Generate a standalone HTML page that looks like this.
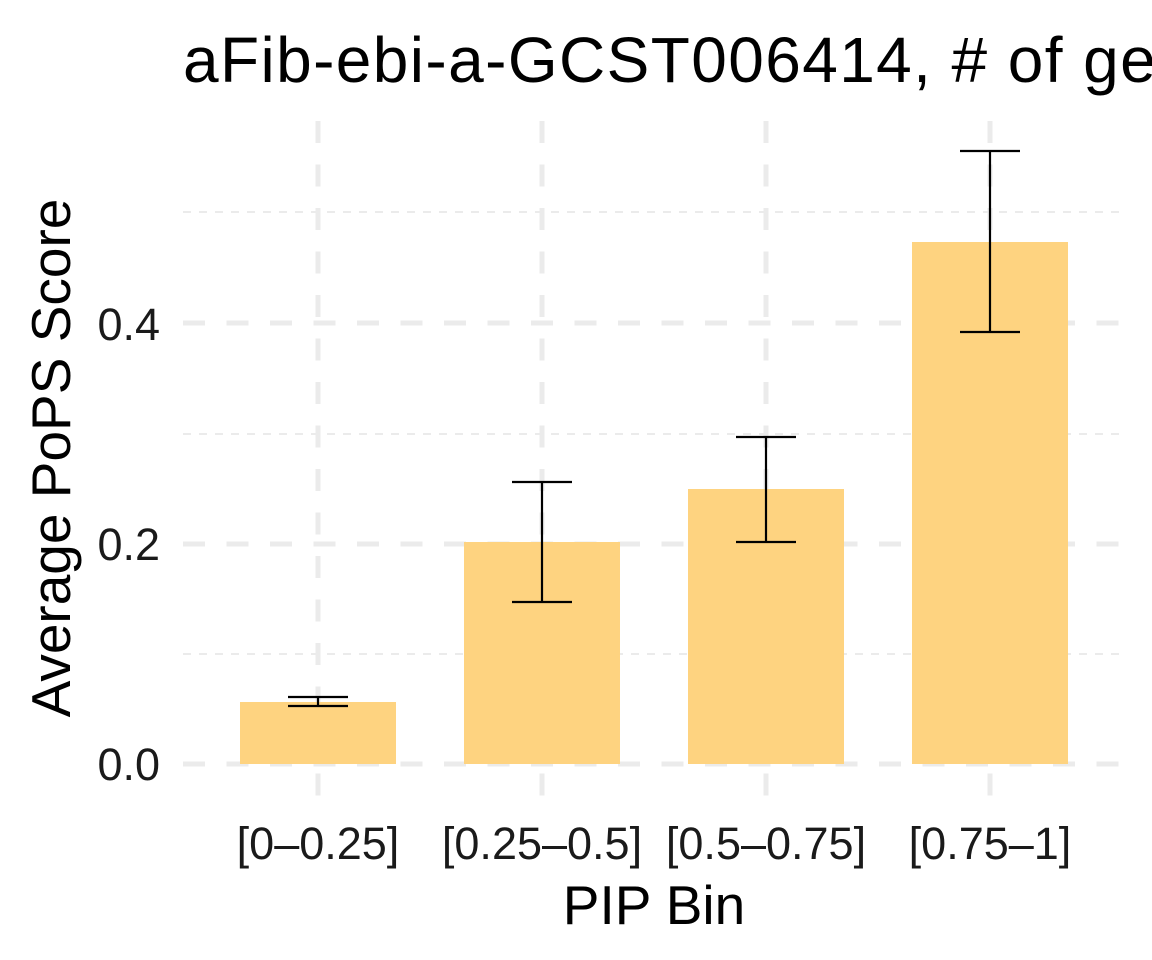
<!DOCTYPE html>
<html><head><style>body{margin:0;background:#fff}svg{display:block}</style></head><body>
<svg width="1152" height="960" xmlns="http://www.w3.org/2000/svg" font-family="Liberation Sans, sans-serif">
<rect width="1152" height="960" fill="#fff"/>
<g stroke="#ebebeb" stroke-width="2" stroke-dasharray="8 8">
<line x1="183" x2="1120" y1="654" y2="654"/><line x1="183" x2="1120" y1="434" y2="434"/><line x1="183" x2="1120" y1="212" y2="212"/>
</g>
<g stroke="#ebebeb" stroke-width="5" stroke-dasharray="22 21.5">
<line x1="183" x2="1120" y1="764" y2="764"/><line x1="183" x2="1120" y1="544" y2="544"/><line x1="183" x2="1120" y1="323" y2="323"/>
<line x1="318" x2="318" y1="121" y2="800"/><line x1="542" x2="542" y1="121" y2="800"/><line x1="766" x2="766" y1="121" y2="800"/><line x1="990" x2="990" y1="121" y2="800"/>
</g>
<g fill="#fed380">
<rect x="240" y="702" width="156" height="62"/><rect x="464" y="542" width="156" height="222"/><rect x="688" y="489" width="156" height="275"/><rect x="912" y="242" width="156" height="522"/>
</g>
<g stroke="#000" stroke-width="2.2" fill="none">
<path d="M288 697H348M288 706H348M318 697V706"/>
<path d="M512 482H572M512 602H572M542 482V602"/>
<path d="M736 437H796M736 542H796M766 437V542"/>
<path d="M960 151H1020M960 332H1020M990 151V332"/>
</g>
<g font-size="45" fill="#1a1a1a" text-anchor="end">
<text x="160" y="780">0.0</text><text x="160" y="560">0.2</text><text x="160" y="340">0.4</text>
</g>
<g font-size="45" fill="#1a1a1a" text-anchor="middle">
<text x="318" y="859">[0–0.25]</text><text x="542" y="859">[0.25–0.5]</text><text x="766" y="859">[0.5–0.75]</text><text x="990" y="859">[0.75–1]</text>
</g>
<text x="654" y="924" font-size="55" text-anchor="middle">PIP Bin</text>
<text transform="translate(70,458) rotate(-90)" font-size="55" text-anchor="middle">Average PoPS Score</text>
<text x="183" y="82" font-size="64" letter-spacing="1.4">aFib-ebi-a-GCST006414, # of genes</text>
</svg>
</body></html>
